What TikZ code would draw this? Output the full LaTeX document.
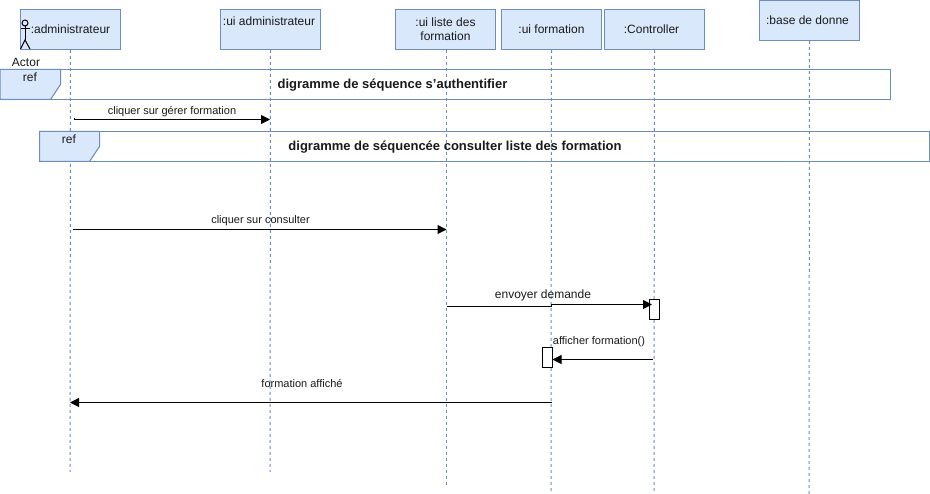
\documentclass[tikz,border=0pt]{standalone}
\usepackage{fontspec}
\setmainfont{Liberation Sans}
\usetikzlibrary{arrows.meta}
\definecolor{boxfill}{HTML}{DAE8FC}
\definecolor{boxline}{HTML}{6C8EBF}
\definecolor{ink}{HTML}{1A1A1A}
\tikzset{
  lifebox/.style={draw=boxline,fill=boxfill,line width=1pt,minimum width=100pt,minimum height=40pt,inner sep=0pt,align=center,font=\fontsize{12}{14}\selectfont,text=ink},
  lbl/.style={inner sep=0pt,font=\fontsize{12}{14}\selectfont,text=ink},
  msglbl/.style={inner sep=0pt,font=\fontsize{11}{13}\selectfont,text=ink},
  lifeline/.style={draw=boxline,line width=1pt,dash pattern=on 3pt off 3pt},
  frameline/.style={draw=boxline,line width=1pt},
  tabshape/.style={draw=boxline,fill=boxfill,line width=1pt},
  frametitle/.style={inner sep=0pt,font=\fontsize{13}{15}\selectfont\bfseries,text=ink},
  msg/.style={draw=black,line width=1pt,-{Triangle[length=9pt,width=9pt]}},
  activation/.style={draw=black,fill=white,line width=1pt,minimum width=10pt,minimum height=20pt,inner sep=0pt},
  actorline/.style={draw=black,line width=1pt},
}
\begin{document}
\begin{tikzpicture}[x=1pt,y=-1pt]
\useasboundingbox (0,0) rectangle (930,494);
\fill[white] (0,0) rectangle (930,494);
% lifeline ends
\coordinate (e1) at (70,472);
\coordinate (e2) at (270,472);
\coordinate (e3) at (446,486);
\coordinate (e4) at (551,491);
\coordinate (e5) at (654,491);
\coordinate (e6) at (809,494);
% lifeline heads
\node[lifebox] (b1) at (70.5,29.5) {:administrateur};
\node[lifebox,label={[lbl,xshift=-1.5pt,yshift=8pt]center::ui administrateur}] (b2) at (270.5,29.5) {};
\node[lifebox] (b3) at (445.5,29.5) {:ui liste des\\formation};
\node[lifebox] (b4) at (551.5,29.5) {:ui formation};
\node[lifebox,label={[lbl,xshift=-3pt]center::Controller}] (b5) at (654.5,29.5) {};
\node[lifebox,label={[lbl,xshift=-2pt]center::base de donne}] (b6) at (809.5,20.5) {};
\draw[lifeline] (b1.south) -- (e1);
\draw[lifeline] (b2.south) -- (e2);
\draw[lifeline] (b3.south -| e3) -- (e3);
\draw[lifeline] (b4.south) -- (e4);
\draw[lifeline] (b5.south) -- (e5);
\draw[lifeline] (b6.south) -- (e6);
% actor
\draw[actorline] (25,23) circle (3pt);
\draw[actorline] (25,26) -- (25,40);
\draw[actorline] (20.5,29) -- (30,29);
\draw[actorline] (20.5,49) -- (25,40) -- (30,49);
\node[lbl] (actorlabel) at (26,62.5) {Actor};
% ref frames
\draw[frameline] (0,69.5) rectangle (890.5,99.5);
\filldraw[tabshape] (0,69.5) -- (60.5,69.5) -- (60.5,84.5) -- (50.5,99.5) -- (0,99.5) -- cycle;
\node[lbl] (ref1) at (30,77.5) {ref};
\node[frametitle] (title1) at (392.5,85.5) {digramme de séquence s'authentifier};
\draw[frameline] (39.5,131.5) rectangle (929.5,161.5);
\filldraw[tabshape] (39.5,131.5) -- (99.5,131.5) -- (99.5,146.5) -- (89.5,161.5) -- (39.5,161.5) -- cycle;
\node[lbl] (ref2) at (69,139.5) {ref};
\node[frametitle] (title2) at (455,147.5) {digramme de séquencée consulter liste des formation};
% activations
\node[activation] (ac1) at (654.5,309.5) {};
\node[activation] (ac2) at (547.5,357.5) {};
% messages
\coordinate (m1s) at (74,118.5);
\coordinate (m1e) at (270,119.5);
\draw[msg] (m1s) |- (m1e);
\node[msglbl] (m1) at (172,111.5) {cliquer sur gérer formation};
\coordinate (m2s) at (73,229.5);
\coordinate (m2e) at (446.5,229.5);
\draw[msg] (m2s) -- (m2e);
\node[msglbl] (m2) at (260.5,221) {cliquer sur consulter};
\coordinate (m3s) at (447,306.5);
\coordinate (m3a) at (551,306.5);
\coordinate (m3b) at (551,304.5);
\coordinate (m3e) at (652,304.5);
\draw[msg] (m3s) -- (m3a) -- (m3b) -- (m3e);
\node[msglbl,font=\fontsize{12}{14}\selectfont] (m3) at (543,295.5) {envoyer demande};
\coordinate (m4s) at (653,359.5);
\coordinate (m4e) at (552.5,359.5);
\draw[msg] (m4s) -- (m4e);
\node[msglbl] (m4) at (599,341.5) {afficher formation()};
\coordinate (m5s) at (552,402.5);
\coordinate (m5e) at (70,402.5);
\draw[msg] (m5s) -- (m5e);
\node[msglbl] (m5) at (302,383.5) {formation affiché};
\end{tikzpicture}
\end{document}
